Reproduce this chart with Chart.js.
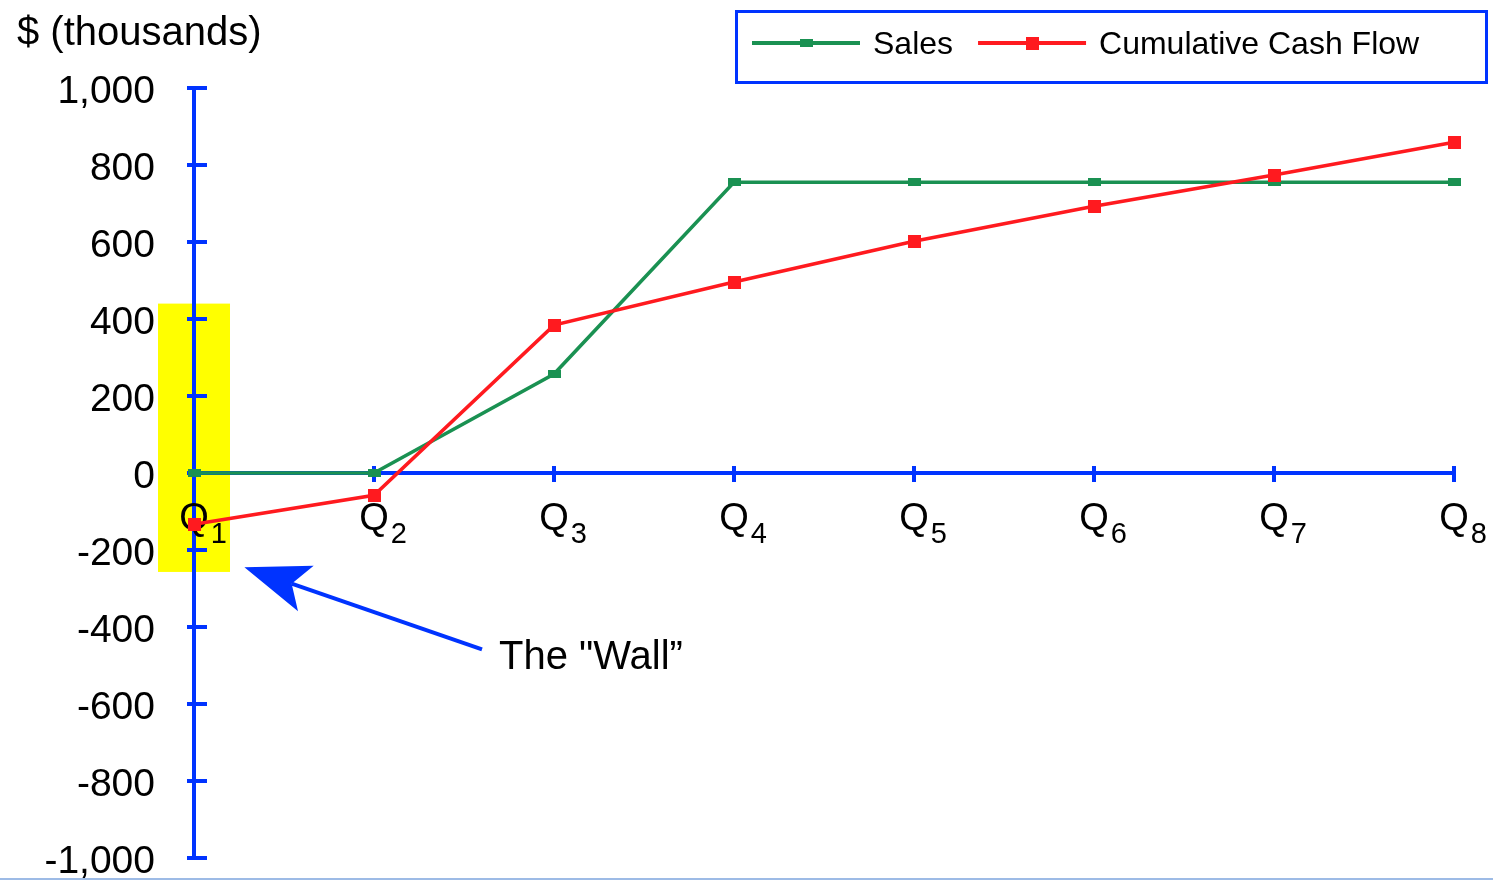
<!DOCTYPE html>
<html>
<head>
<meta charset="utf-8">
<title>Sales and Cumulative Cash Flow</title>
<script src="https://cdn.jsdelivr.net/npm/chart.js@4/dist/chart.umd.min.js"></script>
<style>
  html, body { margin: 0; padding: 0; background: #ffffff; overflow: hidden; }
  #wrap { width: 1493px; height: 881px; position: relative; }
  canvas { display: block; }
</style>
</head>
<body>
<div id="wrap"><canvas id="chart" width="1493" height="881"></canvas></div>
<script>
// ---- data ($ thousands per quarter) ----
const quarters = ['Q1', 'Q2', 'Q3', 'Q4', 'Q5', 'Q6', 'Q7', 'Q8'];
const sales = [0, 0, 257, 755, 755, 755, 755, 755];
const cashFlow = [-133, -58, 384, 496, 602, 693, 774, 859];
const seriesNames = ['Sales', 'Cumulative Cash Flow'];
const yTickValues = [-1000, -800, -600, -400, -200, 0, 200, 400, 600, 800, 1000];
const axisTitle = '$ (thousands)';
const wallLabel = 'The "Wall\u201D';
// highlighted band around the first quarter (category half-width, value range)
const wallBand = { index: 0, halfWidth: 0.2, from: -257, to: 440 };
// annotation arrow: tail and tip in (category index, value)
const wallArrow = { tail: [1.6, -458], tip: [0.28, -245] };

// ---- styling ----
const FONT = '"Liberation Sans", Arial, Helvetica, sans-serif';
const BLUE = '#0033ff';
const GREEN = '#1a9152';
const RED = '#ff1a1f';

function markerCanvas(w, h, color) {
  const c = document.createElement('canvas');
  c.width = w; c.height = h;
  const g = c.getContext('2d');
  g.fillStyle = color;
  g.fillRect(0, 0, w, h);
  return c;
}
const greenMarker = markerCanvas(13, 8, GREEN);
const redMarker = markerCanvas(13, 13, RED);

function fmt(v) {
  const s = Math.abs(v).toString().replace(/\B(?=(\d{3})+(?!\d))/g, ',');
  return (v < 0 ? '-' : '') + s;
}

const decor = {
  id: 'decor',
  beforeDraw(chart) {
    const { ctx } = chart;
    const xs = chart.scales.x, ys = chart.scales.y;
    ctx.save();
    // yellow band
    const x0 = xs.getPixelForValue(wallBand.index - wallBand.halfWidth);
    const x1 = xs.getPixelForValue(wallBand.index + wallBand.halfWidth);
    const yTop = ys.getPixelForValue(wallBand.to);
    const yBot = ys.getPixelForValue(wallBand.from);
    ctx.fillStyle = '#ffff00';
    ctx.fillRect(x0, yTop, x1 - x0, yBot - yTop);
    // axis title
    ctx.fillStyle = '#000';
    ctx.font = '40px ' + FONT;
    ctx.textBaseline = 'alphabetic';
    ctx.textAlign = 'left';
    ctx.fillText(axisTitle, 17, 45);
    // thin rule along the bottom edge
    ctx.fillStyle = '#9dbbe6';
    ctx.fillRect(0, 878, chart.width, 2);
    ctx.restore();
  },
  beforeDatasetsDraw(chart) {
    const { ctx } = chart;
    const xs = chart.scales.x, ys = chart.scales.y;
    const axisX = ys.right;
    const axisY = ys.getPixelForValue(0);
    ctx.save();
    ctx.strokeStyle = BLUE;
    ctx.lineWidth = 4;
    ctx.beginPath();
    ys.ticks.forEach(t => {
      const y = ys.getPixelForValue(t.value);
      ctx.moveTo(axisX - 7, y);
      ctx.lineTo(axisX + 13, y);
    });
    quarters.forEach((q, i) => {
      const x = xs.getPixelForValue(i);
      ctx.moveTo(x, axisY - 7);
      ctx.lineTo(x, axisY + 9);
    });
    ctx.stroke();
    // quarter labels: letter with subscript number
    ctx.fillStyle = '#000';
    ctx.textBaseline = 'alphabetic';
    quarters.forEach((q, i) => {
      const x = xs.getPixelForValue(i);
      const letter = q.charAt(0), num = q.slice(1);
      ctx.font = '38px ' + FONT;
      ctx.textAlign = 'center';
      ctx.fillText(letter, x, axisY + 57);
      const w = ctx.measureText(letter).width;
      ctx.font = '29px ' + FONT;
      ctx.textAlign = 'left';
      ctx.fillText(num, x + w / 2 + 2, axisY + 70);
    });
    ctx.restore();
  },
  afterDraw(chart) {
    const { ctx } = chart;
    const xs = chart.scales.x, ys = chart.scales.y;
    ctx.save();
    // legend box
    ctx.strokeStyle = BLUE;
    ctx.lineWidth = 3;
    ctx.strokeRect(736.5, 11.5, 750, 71);
    ctx.font = '32px ' + FONT;
    ctx.textBaseline = 'alphabetic';
    ctx.textAlign = 'left';
    let lx = 752;
    const ly = 43;
    chart.data.datasets.forEach((ds, i) => {
      ctx.strokeStyle = ds.borderColor;
      ctx.lineWidth = 4;
      ctx.beginPath();
      ctx.moveTo(lx, ly);
      ctx.lineTo(lx + 108, ly);
      ctx.stroke();
      const m = ds.pointStyle;
      ctx.drawImage(m, lx + 54 - m.width / 2, ly - m.height / 2);
      ctx.fillStyle = '#000';
      ctx.fillText(ds.label, lx + 121, 54);
      lx += 121 + ctx.measureText(ds.label).width + 25;
    });
    // arrow pointing at the wall
    const tx = xs.getPixelForValue(wallArrow.tail[0]);
    const ty = ys.getPixelForValue(wallArrow.tail[1]);
    const hx = xs.getPixelForValue(wallArrow.tip[0]);
    const hy = ys.getPixelForValue(wallArrow.tip[1]);
    const len = Math.hypot(tx - hx, ty - hy);
    const ux = (tx - hx) / len, uy = (ty - hy) / len;
    const nx = -uy, ny = ux;
    const headLen = 65, halfW = 24, notch = 50;
    ctx.strokeStyle = BLUE;
    ctx.fillStyle = BLUE;
    ctx.lineWidth = 4;
    ctx.beginPath();
    ctx.moveTo(tx, ty);
    ctx.lineTo(hx + ux * notch, hy + uy * notch);
    ctx.stroke();
    ctx.beginPath();
    ctx.moveTo(hx, hy);
    ctx.lineTo(hx + ux * headLen - nx * halfW, hy + uy * headLen - ny * halfW);
    ctx.lineTo(hx + ux * notch, hy + uy * notch);
    ctx.lineTo(hx + ux * headLen + nx * halfW, hy + uy * headLen + ny * halfW);
    ctx.closePath();
    ctx.fill();
    // annotation text
    ctx.fillStyle = '#000';
    ctx.font = '40px ' + FONT;
    ctx.fillText(wallLabel, tx + 17, ty + 20);
    ctx.restore();
  }
};

new Chart(document.getElementById('chart'), {
  type: 'line',
  data: {
    labels: quarters,
    datasets: [
      {
        label: seriesNames[0],
        data: sales,
        borderColor: GREEN,
        backgroundColor: GREEN,
        borderWidth: 3.5,
        pointStyle: greenMarker,
        pointRadius: 7,
        tension: 0,
        fill: false,
        clip: false,
        order: 1
      },
      {
        label: seriesNames[1],
        data: cashFlow,
        borderColor: RED,
        backgroundColor: RED,
        borderWidth: 3.5,
        pointStyle: redMarker,
        pointRadius: 9,
        tension: 0,
        fill: false,
        clip: false,
        order: 0
      }
    ]
  },
  options: {
    responsive: false,
    devicePixelRatio: 1,
    animation: false,
    events: [],
    layout: { padding: { top: 88, right: 39, bottom: 23, left: 0 } },
    plugins: {
      legend: { display: false },
      tooltip: { enabled: false },
      title: { display: false }
    },
    scales: {
      x: {
        type: 'category',
        position: { y: 0 },
        offset: false,
        grid: { display: true, drawOnChartArea: false, drawTicks: false },
        border: { display: true, color: BLUE, width: 4 },
        ticks: { display: false, padding: 0 },
        afterFit(scale) {
          scale.height = 0;
          scale.paddingLeft = 0; scale.paddingRight = 0;
          scale.paddingTop = 0; scale.paddingBottom = 0;
        }
      },
      y: {
        type: 'linear',
        min: yTickValues[0],
        max: yTickValues[yTickValues.length - 1],
        afterBuildTicks(scale) {
          scale.ticks = yTickValues.map(v => ({ value: v }));
        },
        afterFit(scale) {
          scale.width = 194;
          scale.paddingTop = 0;
          scale.paddingBottom = 0;
        },
        grid: { display: true, drawOnChartArea: false, drawTicks: false },
        border: { display: true, color: BLUE, width: 4 },
        ticks: {
          color: '#000',
          font: { family: FONT, size: 39 },
          padding: 39,
          labelOffset: 4,
          callback: v => fmt(v)
        }
      }
    }
  },
  plugins: [decor]
});
</script>
</body>
</html>
